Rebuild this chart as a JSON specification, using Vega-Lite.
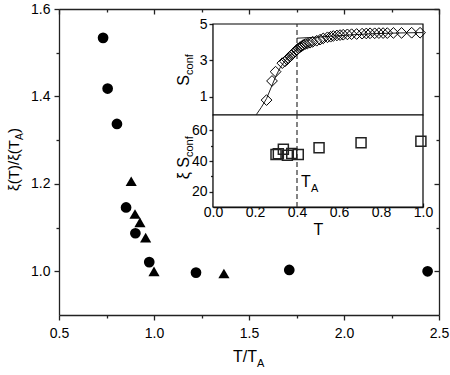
{
  "$schema": "https://vega.github.io/schema/vega-lite/v6.json",
  "width": 380,
  "height": 306,
  "autosize": "none",
  "padding": {"left": 59, "top": 9, "right": 11, "bottom": 60},
  "background": "white",
  "datasets": {
    "circles": [
      {"x": 0.732, "y": 1.534}, {"x": 0.756, "y": 1.418}, {"x": 0.805, "y": 1.337},
      {"x": 0.853, "y": 1.146}, {"x": 0.902, "y": 1.087}, {"x": 0.975, "y": 1.021},
      {"x": 1.221, "y": 0.997}, {"x": 1.712, "y": 1.003}, {"x": 2.44, "y": 1.0}
    ],
    "triangles": [
      {"x": 0.88, "y": 1.206}, {"x": 0.9, "y": 1.131}, {"x": 0.926, "y": 1.112},
      {"x": 0.956, "y": 1.077}, {"x": 1.0, "y": 1.0}, {"x": 1.368, "y": 0.995}
    ],
    "diamonds": [
      {"T": 0.255, "S": 0.82}, {"T": 0.281, "S": 1.87}, {"T": 0.298, "S": 2.38},
      {"T": 0.33, "S": 2.85}, {"T": 0.343, "S": 2.95}, {"T": 0.352, "S": 3.05},
      {"T": 0.359, "S": 3.12}, {"T": 0.366, "S": 3.2}, {"T": 0.374, "S": 3.3},
      {"T": 0.382, "S": 3.39}, {"T": 0.39, "S": 3.48}, {"T": 0.398, "S": 3.56},
      {"T": 0.406, "S": 3.66}, {"T": 0.414, "S": 3.72}, {"T": 0.422, "S": 3.78},
      {"T": 0.43, "S": 3.85}, {"T": 0.44, "S": 3.9}, {"T": 0.45, "S": 3.93},
      {"T": 0.462, "S": 3.97}, {"T": 0.475, "S": 4.02}, {"T": 0.494, "S": 4.08},
      {"T": 0.51, "S": 4.14}, {"T": 0.525, "S": 4.21}, {"T": 0.545, "S": 4.27},
      {"T": 0.56, "S": 4.3}, {"T": 0.573, "S": 4.34}, {"T": 0.59, "S": 4.37},
      {"T": 0.605, "S": 4.39}, {"T": 0.62, "S": 4.41}, {"T": 0.64, "S": 4.43},
      {"T": 0.66, "S": 4.44}, {"T": 0.684, "S": 4.45}, {"T": 0.71, "S": 4.47},
      {"T": 0.73, "S": 4.48}, {"T": 0.748, "S": 4.49}, {"T": 0.77, "S": 4.49},
      {"T": 0.79, "S": 4.5}, {"T": 0.81, "S": 4.5}, {"T": 0.83, "S": 4.5},
      {"T": 0.859, "S": 4.51}, {"T": 0.898, "S": 4.51}, {"T": 0.946, "S": 4.52},
      {"T": 0.986, "S": 4.52}
    ],
    "fit": [
      {"T": 0.205, "S": 0.0, "seg": "a"}, {"T": 0.23, "S": 0.42, "seg": "a"},
      {"T": 0.255, "S": 0.9, "seg": "a"}, {"T": 0.28, "S": 1.6, "seg": "a"},
      {"T": 0.3, "S": 2.15, "seg": "a"}, {"T": 0.32, "S": 2.6, "seg": "a"},
      {"T": 0.34, "S": 2.93, "seg": "a"}, {"T": 0.36, "S": 3.2, "seg": "a"},
      {"T": 0.38, "S": 3.42, "seg": "a"}, {"T": 0.4, "S": 3.62, "seg": "a"},
      {"T": 0.4, "S": 4.22, "seg": "b"}, {"T": 0.5, "S": 4.28, "seg": "b"},
      {"T": 0.6, "S": 4.36, "seg": "b"}, {"T": 0.7, "S": 4.43, "seg": "b"},
      {"T": 0.8, "S": 4.48, "seg": "b"}, {"T": 0.9, "S": 4.51, "seg": "b"},
      {"T": 1.0, "S": 4.53, "seg": "b"}
    ],
    "squares": [
      {"T": 0.3, "v": 44.2}, {"T": 0.311, "v": 44.8}, {"T": 0.335, "v": 47.7},
      {"T": 0.354, "v": 43.8}, {"T": 0.375, "v": 44.9}, {"T": 0.406, "v": 44.2},
      {"T": 0.505, "v": 48.6}, {"T": 0.705, "v": 51.9}, {"T": 0.99, "v": 52.8}
    ]
  },
  "data": {"values": [{"k": 1}]},
  "layer": [
    {
      "data": {"name": "circles"},
      "mark": {"type": "point", "shape": "circle", "filled": true, "color": "black", "size": 115, "opacity": 1},
      "encoding": {
        "x": {"field": "x", "type": "quantitative", "scale": {"domain": [0.5, 2.5], "nice": false, "zero": false},
              "axis": {"orient": "bottom", "values": [0.5, 1, 1.5, 2, 2.5], "format": ".1f", "title": null, "tickSize": 5, "labelPadding": 6}},
        "y": {"field": "y", "type": "quantitative", "scale": {"domain": [0.9, 1.6], "nice": false, "zero": false},
              "axis": {"orient": "left", "values": [1.0, 1.2, 1.4, 1.6], "format": ".1f", "title": null, "tickSize": 5, "labelPadding": 4}}
      }
    },
    {
      "data": {"name": "triangles"},
      "mark": {"type": "point", "shape": "triangle-up", "filled": true, "color": "black", "size": 125, "opacity": 1},
      "encoding": {
        "x": {"field": "x", "type": "quantitative", "scale": {"domain": [0.5, 2.5], "nice": false, "zero": false}, "axis": null},
        "y": {"field": "y", "type": "quantitative", "scale": {"domain": [0.9, 1.6], "nice": false, "zero": false}, "axis": null}
      }
    },
    {
      "mark": {"type": "point", "opacity": 0},
      "encoding": {
        "x": {"datum": 1, "type": "quantitative", "scale": {"domain": [0.5, 2.5], "nice": false, "zero": false},
              "axis": {"orient": "bottom", "values": [0.75, 1.25, 1.75, 2.25], "labels": false, "domain": false, "title": null, "tickSize": 3}},
        "y": {"datum": 1, "type": "quantitative", "scale": {"domain": [0.9, 1.6], "nice": false, "zero": false},
              "axis": {"orient": "left", "values": [1.1, 1.3, 1.5], "labels": false, "domain": false, "title": null, "tickSize": 3}}
      }
    },
    {
      "mark": {"type": "point", "opacity": 0},
      "encoding": {
        "x": {"datum": 1, "type": "quantitative", "scale": {"domain": [0.5, 2.5], "nice": false, "zero": false},
              "axis": {"orient": "top", "values": [0.5, 1, 1.5, 2, 2.5], "labels": false, "title": null, "tickSize": -5}},
        "y": {"datum": 1, "type": "quantitative", "scale": {"domain": [0.9, 1.6], "nice": false, "zero": false},
              "axis": {"orient": "right", "values": [1.0, 1.2, 1.4, 1.6], "labels": false, "title": null, "tickSize": -5}}
      }
    },
    {
      "mark": {"type": "point", "opacity": 0},
      "encoding": {
        "x": {"datum": 1, "type": "quantitative", "scale": {"domain": [0.5, 2.5], "nice": false, "zero": false},
              "axis": {"orient": "top", "values": [0.75, 1.25, 1.75, 2.25], "labels": false, "domain": false, "title": null, "tickSize": -3}},
        "y": {"datum": 1, "type": "quantitative", "scale": {"domain": [0.9, 1.6], "nice": false, "zero": false},
              "axis": {"orient": "right", "values": [1.1, 1.3, 1.5], "labels": false, "domain": false, "title": null, "tickSize": -3}}
      }
    },
    {
      "mark": {"type": "text", "text": "T/T", "align": "right", "baseline": "alphabetic", "dx": 8, "fontSize": 16},
      "encoding": {
        "x": {"datum": 1.5, "type": "quantitative", "scale": {"domain": [0.5, 2.5], "nice": false, "zero": false}, "axis": null},
        "y": {"datum": 0.7925, "type": "quantitative", "scale": {"domain": [0.9, 1.6], "nice": false, "zero": false}, "axis": null}
      }
    },
    {
      "mark": {"type": "text", "text": "A", "align": "left", "baseline": "alphabetic", "dx": 8, "dy": 5, "fontSize": 11},
      "encoding": {
        "x": {"datum": 1.5, "type": "quantitative", "scale": {"domain": [0.5, 2.5], "nice": false, "zero": false}, "axis": null},
        "y": {"datum": 0.7925, "type": "quantitative", "scale": {"domain": [0.9, 1.6], "nice": false, "zero": false}, "axis": null}
      }
    },
    {
      "mark": {"type": "text", "text": "ξ(T)/ξ(T", "angle": 270, "align": "right", "baseline": "alphabetic", "dx": 20, "fontSize": 15},
      "encoding": {
        "x": {"datum": 0.2895, "type": "quantitative", "scale": {"domain": [0.5, 2.5], "nice": false, "zero": false}, "axis": null},
        "y": {"datum": 1.2546, "type": "quantitative", "scale": {"domain": [0.9, 1.6], "nice": false, "zero": false}, "axis": null}
      }
    },
    {
      "mark": {"type": "text", "text": "A", "angle": 270, "align": "left", "baseline": "alphabetic", "dx": 20, "dy": 4, "fontSize": 10},
      "encoding": {
        "x": {"datum": 0.2895, "type": "quantitative", "scale": {"domain": [0.5, 2.5], "nice": false, "zero": false}, "axis": null},
        "y": {"datum": 1.2546, "type": "quantitative", "scale": {"domain": [0.9, 1.6], "nice": false, "zero": false}, "axis": null}
      }
    },
    {
      "mark": {"type": "text", "text": ")", "angle": 270, "align": "left", "baseline": "alphabetic", "dx": 27, "fontSize": 15},
      "encoding": {
        "x": {"datum": 0.2895, "type": "quantitative", "scale": {"domain": [0.5, 2.5], "nice": false, "zero": false}, "axis": null},
        "y": {"datum": 1.2546, "type": "quantitative", "scale": {"domain": [0.9, 1.6], "nice": false, "zero": false}, "axis": null}
      }
    },
    {
      "mark": {"type": "rect", "fill": "white", "stroke": "black", "strokeWidth": 1.2},
      "encoding": {
        "x": {"datum": 0, "type": "quantitative", "scale": {"domain": [0, 1], "range": [154, 364], "nice": false, "zero": false}, "axis": null},
        "x2": {"datum": 1},
        "y": {"datum": 0, "type": "quantitative", "scale": {"domain": [0, 5], "range": [106, 15], "nice": false, "zero": false}, "axis": null},
        "y2": {"datum": 5}
      }
    },
    {
      "mark": {"type": "rect", "fill": "white", "stroke": "black", "strokeWidth": 1.2},
      "encoding": {
        "x": {"datum": 0, "type": "quantitative", "scale": {"domain": [0, 1], "range": [154, 364], "nice": false, "zero": false}, "axis": null},
        "x2": {"datum": 1},
        "y": {"datum": 10, "type": "quantitative", "scale": {"domain": [10, 70], "range": [198, 106], "nice": false, "zero": false}, "axis": null},
        "y2": {"datum": 70}
      }
    },
    {
      "mark": {"type": "rule", "stroke": "#333", "strokeWidth": 1.2, "strokeDash": [5, 3]},
      "encoding": {
        "x": {"datum": 0.4, "type": "quantitative", "scale": {"domain": [0, 1], "range": [154, 364], "nice": false, "zero": false}, "axis": null},
        "y": {"datum": 0, "type": "quantitative", "scale": {"domain": [0, 5], "range": [106, 15], "nice": false, "zero": false}, "axis": null},
        "y2": {"datum": 5}
      }
    },
    {
      "mark": {"type": "rule", "stroke": "#333", "strokeWidth": 1.2, "strokeDash": [5, 3]},
      "encoding": {
        "x": {"datum": 0.4, "type": "quantitative", "scale": {"domain": [0, 1], "range": [154, 364], "nice": false, "zero": false}, "axis": null},
        "y": {"datum": 10, "type": "quantitative", "scale": {"domain": [10, 70], "range": [198, 106], "nice": false, "zero": false}, "axis": null},
        "y2": {"datum": 70}
      }
    },
    {
      "data": {"name": "fit"},
      "mark": {"type": "line", "stroke": "#222", "strokeWidth": 1},
      "encoding": {
        "x": {"field": "T", "type": "quantitative", "scale": {"domain": [0, 1], "range": [154, 364], "nice": false, "zero": false}, "axis": null},
        "y": {"field": "S", "type": "quantitative", "scale": {"domain": [0, 5], "range": [106, 15], "nice": false, "zero": false}, "axis": null},
        "detail": {"field": "seg", "type": "nominal"}
      }
    },
    {
      "data": {"name": "diamonds"},
      "mark": {"type": "point", "shape": "diamond", "filled": false, "stroke": "black", "strokeWidth": 1, "size": 115, "opacity": 1},
      "encoding": {
        "x": {"field": "T", "type": "quantitative", "scale": {"domain": [0, 1], "range": [154, 364], "nice": false, "zero": false}, "axis": null},
        "y": {"field": "S", "type": "quantitative", "scale": {"domain": [0, 5], "range": [106, 15], "nice": false, "zero": false},
              "axis": {"orient": "left", "offset": -154, "values": [1, 3, 5], "title": null, "tickSize": 4, "labelPadding": 2}}
      }
    },
    {
      "data": {"name": "squares"},
      "mark": {"type": "point", "shape": "square", "filled": false, "stroke": "#222", "strokeWidth": 1.5, "size": 100, "opacity": 1},
      "encoding": {
        "x": {"field": "T", "type": "quantitative", "scale": {"domain": [0, 1], "range": [154, 364], "nice": false, "zero": false},
              "axis": {"orient": "bottom", "offset": -108, "values": [0, 0.2, 0.4, 0.6, 0.8, 1.0], "format": ".1f", "title": "T", "titleFontSize": 16, "titleFontWeight": "normal", "titlePadding": 2, "tickSize": -4, "labelPadding": 2}},
        "y": {"field": "v", "type": "quantitative", "scale": {"domain": [10, 70], "range": [198, 106], "nice": false, "zero": false},
              "axis": {"orient": "left", "offset": -154, "values": [20, 40, 60], "title": null, "tickSize": 4, "labelPadding": 2}}
      }
    },
    {
      "mark": {"type": "point", "opacity": 0},
      "encoding": {
        "x": {"datum": 0.5, "type": "quantitative", "scale": {"domain": [0, 1], "range": [154, 364], "nice": false, "zero": false},
              "axis": {"orient": "bottom", "offset": -108, "values": [0.1, 0.3, 0.5, 0.7, 0.9], "labels": false, "domain": false, "title": null, "tickSize": -2.5}},
        "y": {"datum": 40, "type": "quantitative", "scale": {"domain": [10, 70], "range": [198, 106], "nice": false, "zero": false},
              "axis": {"orient": "left", "offset": -154, "values": [30, 50], "labels": false, "domain": false, "title": null, "tickSize": 2.5}}
      }
    },
    {
      "mark": {"type": "text", "text": "S", "angle": 270, "align": "right", "baseline": "alphabetic", "fontSize": 16},
      "encoding": {
        "x": {"datum": -0.114, "type": "quantitative", "scale": {"domain": [0, 1], "range": [154, 364], "nice": false, "zero": false}, "axis": null},
        "y": {"datum": 2.2, "type": "quantitative", "scale": {"domain": [0, 5], "range": [106, 15], "nice": false, "zero": false}, "axis": null}
      }
    },
    {
      "mark": {"type": "text", "text": "conf", "angle": 270, "align": "left", "baseline": "alphabetic", "dy": 4, "fontSize": 11},
      "encoding": {
        "x": {"datum": -0.114, "type": "quantitative", "scale": {"domain": [0, 1], "range": [154, 364], "nice": false, "zero": false}, "axis": null},
        "y": {"datum": 2.2, "type": "quantitative", "scale": {"domain": [0, 5], "range": [106, 15], "nice": false, "zero": false}, "axis": null}
      }
    },
    {
      "mark": {"type": "text", "text": "ξ S", "angle": 270, "align": "right", "baseline": "alphabetic", "fontSize": 16},
      "encoding": {
        "x": {"datum": -0.114, "type": "quantitative", "scale": {"domain": [0, 1], "range": [154, 364], "nice": false, "zero": false}, "axis": null},
        "y": {"datum": 42.6, "type": "quantitative", "scale": {"domain": [10, 70], "range": [198, 106], "nice": false, "zero": false}, "axis": null}
      }
    },
    {
      "mark": {"type": "text", "text": "conf", "angle": 270, "align": "left", "baseline": "alphabetic", "dy": 4, "fontSize": 11},
      "encoding": {
        "x": {"datum": -0.114, "type": "quantitative", "scale": {"domain": [0, 1], "range": [154, 364], "nice": false, "zero": false}, "axis": null},
        "y": {"datum": 42.6, "type": "quantitative", "scale": {"domain": [10, 70], "range": [198, 106], "nice": false, "zero": false}, "axis": null}
      }
    },
    {
      "mark": {"type": "text", "text": "T", "align": "left", "baseline": "alphabetic", "fontSize": 16},
      "encoding": {
        "x": {"datum": 0.419, "type": "quantitative", "scale": {"domain": [0, 1], "range": [154, 364], "nice": false, "zero": false}, "axis": null},
        "y": {"datum": 23, "type": "quantitative", "scale": {"domain": [10, 70], "range": [198, 106], "nice": false, "zero": false}, "axis": null}
      }
    },
    {
      "mark": {"type": "text", "text": "A", "align": "left", "baseline": "alphabetic", "dx": 10, "dy": 5, "fontSize": 11},
      "encoding": {
        "x": {"datum": 0.419, "type": "quantitative", "scale": {"domain": [0, 1], "range": [154, 364], "nice": false, "zero": false}, "axis": null},
        "y": {"datum": 23, "type": "quantitative", "scale": {"domain": [10, 70], "range": [198, 106], "nice": false, "zero": false}, "axis": null}
      }
    }
  ],
  "resolve": {"scale": {"x": "independent", "y": "independent"}},
  "config": {
    "view": {"stroke": null},
    "font": "Liberation Sans",
    "axis": {
      "grid": false, "labelFont": "Liberation Sans", "titleFont": "Liberation Sans",
      "labelColor": "black", "titleColor": "black", "domainColor": "#222", "tickColor": "#222",
      "labelFontSize": 14, "domainWidth": 1.3, "tickWidth": 1.3, "labelFlush": false, "labelOverlap": false
    },
    "text": {"font": "Liberation Sans", "color": "black"}
  }
}
